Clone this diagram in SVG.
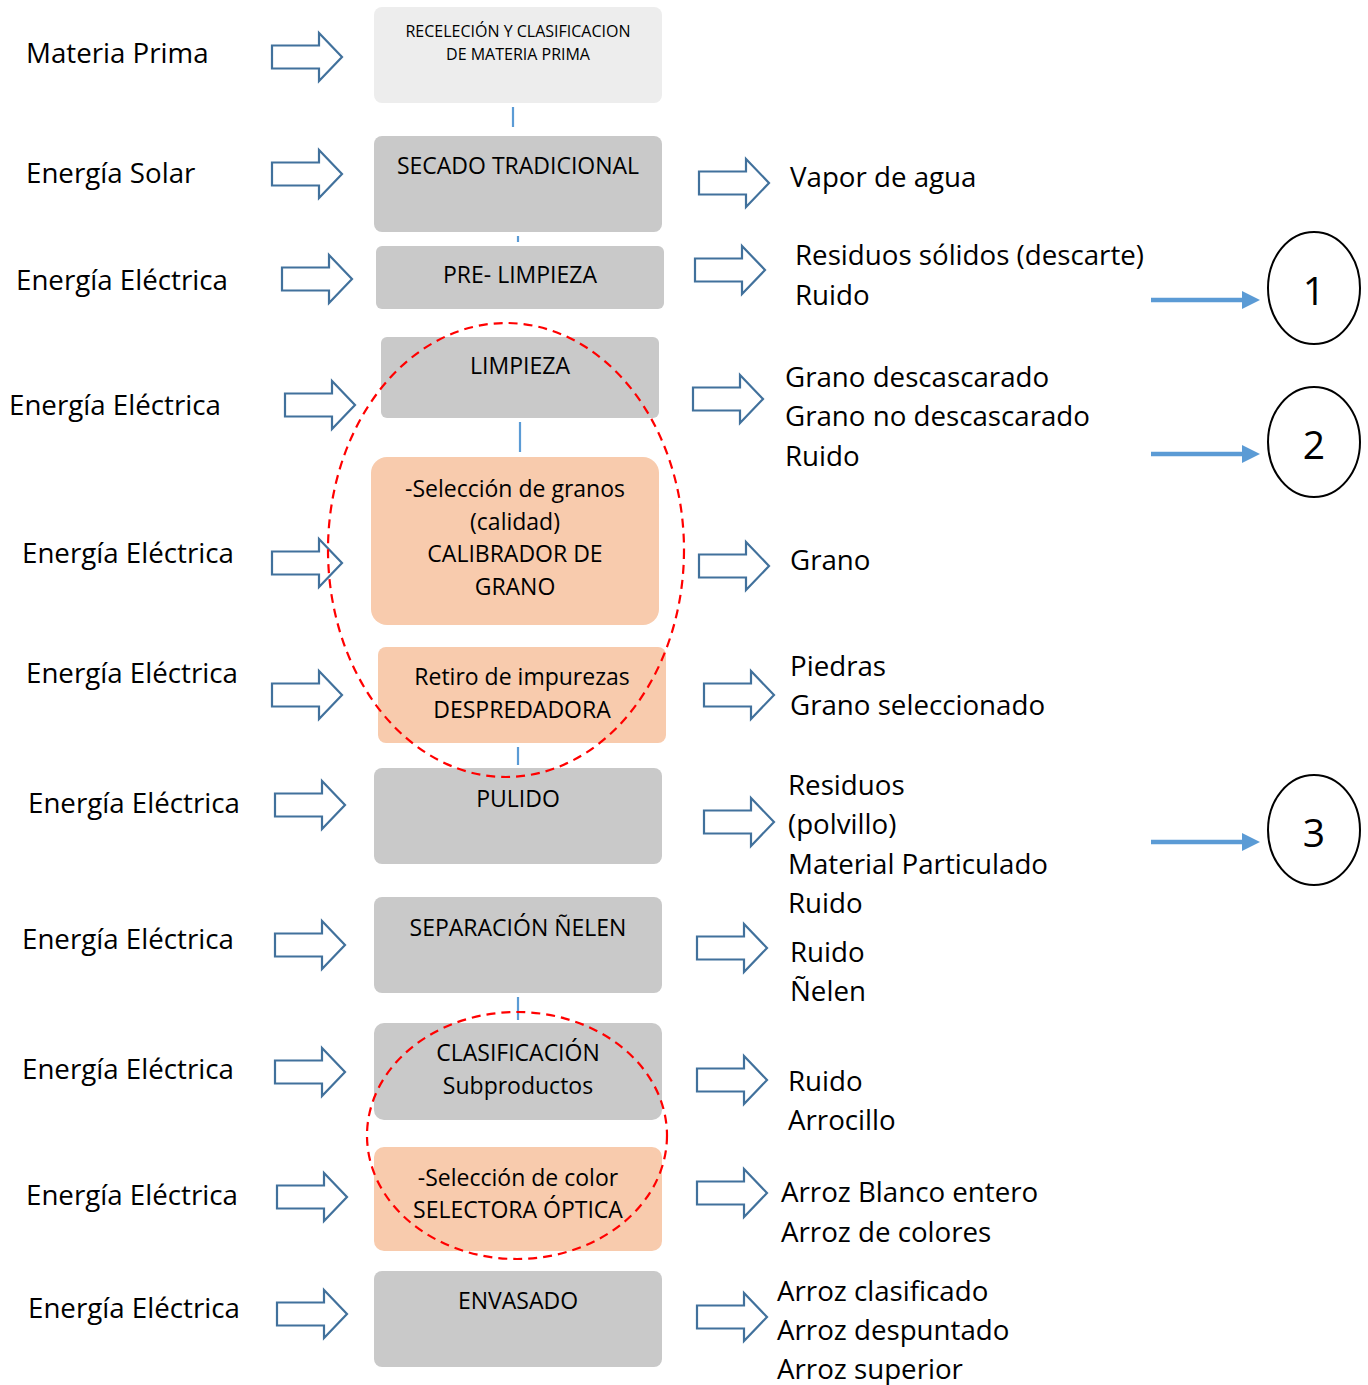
<svg xmlns="http://www.w3.org/2000/svg" xmlns:xlink="http://www.w3.org/1999/xlink" width="1368" height="1385" viewBox="0 0 1368 1385">
<style>
.lbl{font-family:"Open Sans","Noto Sans",sans-serif;font-size:27.7px;fill:#000}
.bt{font-family:"Open Sans","Noto Sans",sans-serif;font-size:23px;fill:#000;text-anchor:middle}
.bp{font-family:"Open Sans","Noto Sans",sans-serif;font-size:23px;fill:#000;text-anchor:middle}
.sm{font-size:16px}
.num{font-family:"Open Sans","Noto Sans",sans-serif;font-size:39px;fill:#000;text-anchor:middle}
.grey{fill:#C9C9C9}
.light{fill:#EDEDED}
.peach{fill:#F8CBAD}
.blk{fill:none;stroke:#41719C;stroke-width:2.2}
.con{stroke:#5B9BD5;stroke-width:2.2}
.flow{stroke:#5B9BD5;stroke-width:4.5}
.dash{fill:none;stroke:#FF0000;stroke-width:2.2;stroke-dasharray:9 6}
.circ{fill:#fff;stroke:#000;stroke-width:2}
</style>
<defs>
<path id="ba" d="M0,-11.5 H47 V-24 L70,0 L47,24 V11.5 H0 Z"/>
</defs>
<rect width="1368" height="1385" fill="#fff"/>

<g id="connectors">
<line class="con" x1="513" y1="107" x2="513" y2="127"/>
<line class="con" x1="518" y1="236" x2="518" y2="242"/>
<line class="con" x1="520" y1="422" x2="520" y2="452"/>
<line class="con" x1="518" y1="747" x2="518" y2="765"/>
<line class="con" x1="518" y1="997" x2="518" y2="1020"/>
<line class="flow" x1="1151" y1="300" x2="1245" y2="300"/>
<polygon fill="#5B9BD5" points="1242,291 1260,300 1242,309"/>
<line class="flow" x1="1151" y1="454" x2="1245" y2="454"/>
<polygon fill="#5B9BD5" points="1242,445 1260,454 1242,463"/>
<line class="flow" x1="1151" y1="842" x2="1245" y2="842"/>
<polygon fill="#5B9BD5" points="1242,833 1260,842 1242,851"/>
</g>

<g id="inputs">
<use xlink:href="#ba" class="blk" transform="translate(272,57)"/>
<use xlink:href="#ba" class="blk" transform="translate(272,174)"/>
<use xlink:href="#ba" class="blk" transform="translate(282,279)"/>
<use xlink:href="#ba" class="blk" transform="translate(285,405)"/>
<use xlink:href="#ba" class="blk" transform="translate(272,563)"/>
<use xlink:href="#ba" class="blk" transform="translate(272,695)"/>
<use xlink:href="#ba" class="blk" transform="translate(275,805)"/>
<use xlink:href="#ba" class="blk" transform="translate(275,945)"/>
<use xlink:href="#ba" class="blk" transform="translate(275,1072)"/>
<use xlink:href="#ba" class="blk" transform="translate(277,1197)"/>
<use xlink:href="#ba" class="blk" transform="translate(277,1314)"/>
<text class="lbl" x="26" y="63">Materia Prima</text>
<text class="lbl" x="26" y="183">Energía Solar</text>
<text class="lbl" x="16" y="290">Energía Eléctrica</text>
<text class="lbl" x="9" y="415">Energía Eléctrica</text>
<text class="lbl" x="22" y="563">Energía Eléctrica</text>
<text class="lbl" x="26" y="683">Energía Eléctrica</text>
<text class="lbl" x="28" y="813">Energía Eléctrica</text>
<text class="lbl" x="22" y="949">Energía Eléctrica</text>
<text class="lbl" x="22" y="1079">Energía Eléctrica</text>
<text class="lbl" x="26" y="1205">Energía Eléctrica</text>
<text class="lbl" x="28" y="1318">Energía Eléctrica</text>
</g>

<g id="outputs">
<use xlink:href="#ba" class="blk" transform="translate(699,183)"/>
<use xlink:href="#ba" class="blk" transform="translate(695,270)"/>
<use xlink:href="#ba" class="blk" transform="translate(693,399)"/>
<use xlink:href="#ba" class="blk" transform="translate(699,566)"/>
<use xlink:href="#ba" class="blk" transform="translate(704,695)"/>
<use xlink:href="#ba" class="blk" transform="translate(704,822)"/>
<use xlink:href="#ba" class="blk" transform="translate(697,948)"/>
<use xlink:href="#ba" class="blk" transform="translate(697,1080)"/>
<use xlink:href="#ba" class="blk" transform="translate(697,1193)"/>
<use xlink:href="#ba" class="blk" transform="translate(697,1317)"/>
<text class="lbl" x="790" y="187">Vapor de agua</text>
<text class="lbl" x="795" y="265">Residuos sólidos (descarte)</text>
<text class="lbl" x="795" y="305">Ruido</text>
<text class="lbl" x="785" y="387">Grano descascarado</text>
<text class="lbl" x="785" y="426">Grano no descascarado</text>
<text class="lbl" x="785" y="466">Ruido</text>
<text class="lbl" x="790" y="570">Grano</text>
<text class="lbl" x="790" y="676">Piedras</text>
<text class="lbl" x="790" y="715">Grano seleccionado</text>
<text class="lbl" x="788" y="795">Residuos</text>
<text class="lbl" x="788" y="834">(polvillo)</text>
<text class="lbl" x="788" y="874">Material Particulado</text>
<text class="lbl" x="788" y="913">Ruido</text>
<text class="lbl" x="790" y="962">Ruido</text>
<text class="lbl" x="790" y="1001">Ñelen</text>
<text class="lbl" x="788" y="1091">Ruido</text>
<text class="lbl" x="788" y="1130">Arrocillo</text>
<text class="lbl" x="781" y="1202">Arroz Blanco entero</text>
<text class="lbl" x="781" y="1242">Arroz de colores</text>
<text class="lbl" x="777" y="1301">Arroz clasificado</text>
<text class="lbl" x="777" y="1340">Arroz despuntado</text>
<text class="lbl" x="777" y="1379">Arroz superior</text>
</g>

<g id="n-recepcion">
<rect class="light" x="374" y="7" width="288" height="96" rx="8"/>
<text class="bt sm" x="518" y="37">RECELECIÓN Y CLASIFICACION</text>
<text class="bt sm" x="518" y="60">DE MATERIA PRIMA</text>
</g>
<g id="n-secado">
<rect class="grey" x="374" y="136" width="288" height="96" rx="8"/>
<text class="bt" x="518" y="174">SECADO TRADICIONAL</text>
</g>
<g id="n-prelimpieza">
<rect class="grey" x="376" y="246" width="288" height="63" rx="6"/>
<text class="bt" x="520" y="283">PRE- LIMPIEZA</text>
</g>
<g id="n-limpieza">
<rect class="grey" x="381" y="337" width="278" height="81" rx="6"/>
<text class="bt" x="520" y="374">LIMPIEZA</text>
</g>
<g id="n-seleccion">
<rect class="peach" x="371" y="457" width="288" height="168" rx="16"/>
<text class="bp" x="515" y="497">-Selección de granos</text>
<text class="bp" x="515" y="530">(calidad)</text>
<text class="bp" x="515" y="562">CALIBRADOR DE</text>
<text class="bp" x="515" y="595">GRANO</text>
</g>
<g id="n-retiro">
<rect class="peach" x="378" y="647" width="288" height="96" rx="8"/>
<text class="bp" x="522" y="685">Retiro de impurezas</text>
<text class="bp" x="522" y="718">DESPREDADORA</text>
</g>
<g id="n-pulido">
<rect class="grey" x="374" y="768" width="288" height="96" rx="8"/>
<text class="bt" x="518" y="807">PULIDO</text>
</g>
<g id="n-separacion">
<rect class="grey" x="374" y="897" width="288" height="96" rx="8"/>
<text class="bt" x="518" y="936">SEPARACIÓN ÑELEN</text>
</g>
<g id="n-clasificacion">
<rect class="grey" x="374" y="1023" width="288" height="97" rx="10"/>
<text class="bp" x="518" y="1061">CLASIFICACIÓN</text>
<text class="bp" x="518" y="1094">Subproductos</text>
</g>
<g id="n-selectora">
<rect class="peach" x="374" y="1147" width="288" height="104" rx="10"/>
<text class="bp" x="518" y="1186">-Selección de color</text>
<text class="bp" x="518" y="1218">SELECTORA ÓPTICA</text>
</g>
<g id="n-envasado">
<rect class="grey" x="374" y="1271" width="288" height="96" rx="8"/>
<text class="bt" x="518" y="1309">ENVASADO</text>
</g>

<g id="groups">
<ellipse class="dash" cx="506" cy="550" rx="178" ry="227"/>
<ellipse class="dash" cx="517" cy="1135.5" rx="150" ry="123.5"/>
</g>

<g id="n-c1">
<ellipse class="circ" cx="1314" cy="288" rx="46" ry="56"/>
<text class="num" x="1314" y="305">1</text>
</g>
<g id="n-c2">
<ellipse class="circ" cx="1314" cy="442" rx="46" ry="55"/>
<text class="num" x="1314" y="459">2</text>
</g>
<g id="n-c3">
<ellipse class="circ" cx="1314" cy="830" rx="46" ry="55"/>
<text class="num" x="1314" y="847">3</text>
</g>
</svg>
